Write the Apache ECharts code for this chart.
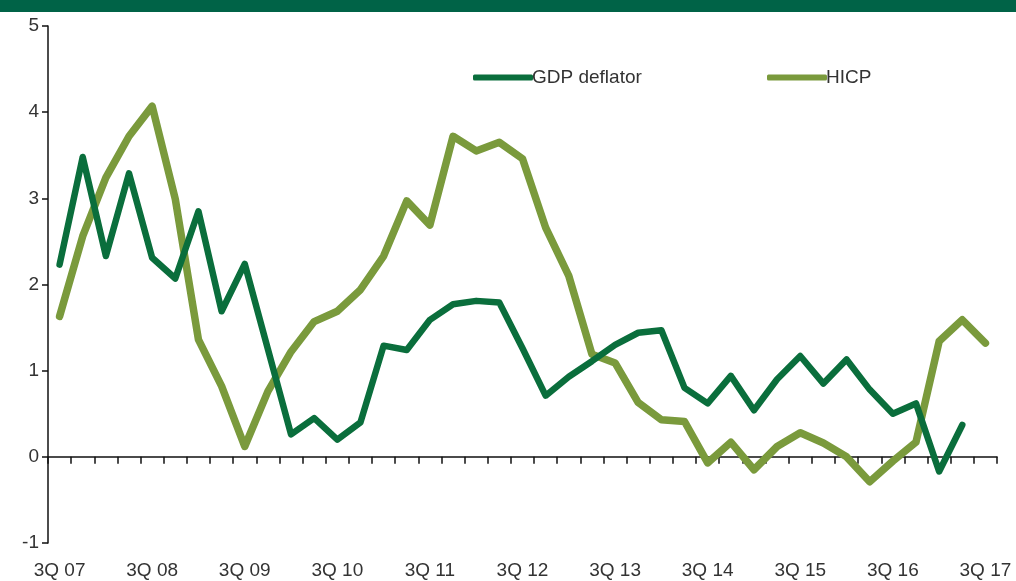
<!DOCTYPE html>
<html>
<head>
<meta charset="utf-8">
<script src="https://cdn.jsdelivr.net/npm/echarts@6/dist/echarts.min.js"></script>
<style>html,body{margin:0;padding:0;background:#fff;}#c{width:1016px;height:581px;}</style>
</head>
<body>
<div id="c"></div>
<script>
// Quarters 3Q07 .. 3Q17
const categories = [
  '3Q 07','4Q 07','1Q 08','2Q 08','3Q 08','4Q 08','1Q 09','2Q 09','3Q 09','4Q 09',
  '1Q 10','2Q 10','3Q 10','4Q 10','1Q 11','2Q 11','3Q 11','4Q 11','1Q 12','2Q 12',
  '3Q 12','4Q 12','1Q 13','2Q 13','3Q 13','4Q 13','1Q 14','2Q 14','3Q 14','4Q 14',
  '1Q 15','2Q 15','3Q 15','4Q 15','1Q 16','2Q 16','3Q 16','4Q 16','1Q 17','2Q 17','3Q 17'
];
const gdpDeflator = [
  2.23, 3.48, 2.33, 3.29, 2.31, 2.07, 2.85, 1.69, 2.24, 1.25,
  0.26, 0.45, 0.20, 0.40, 1.29, 1.24, 1.59, 1.77, 1.81, 1.79,
  1.26, 0.71, 0.93, 1.11, 1.30, 1.44, 1.47, 0.80, 0.62, 0.94,
  0.54, 0.90, 1.17, 0.85, 1.13, 0.78, 0.50, 0.62, -0.17, 0.37, null
];
const hicp = [
  1.63, 2.56, 3.24, 3.72, 4.07, 2.99, 1.36, 0.82, 0.12, 0.76,
  1.22, 1.57, 1.69, 1.94, 2.33, 2.97, 2.69, 3.72, 3.55, 3.65,
  3.46, 2.66, 2.10, 1.19, 1.09, 0.63, 0.43, 0.41, -0.07, 0.17,
  -0.15, 0.12, 0.28, 0.16, 0.00, -0.29, -0.05, 0.17, 1.34, 1.59, 1.32
];
const yTicks = { min: -1, max: 5, interval: 1 };

const FONT = '"Liberation Sans", Arial, sans-serif';
const GDP_COLOR = '#0a6e3c';
const HICP_COLOR = '#7a9a3c';
const TEXT_COLOR = '#333';

const chart = echarts.init(document.getElementById('c'), null, { renderer: 'canvas' });
chart.setOption({
  animation: false,
  backgroundColor: '#ffffff',
  graphic: [{
    type: 'rect', left: 0, top: 0, z: 10,
    shape: { width: 1016, height: 12 },
    style: { fill: '#006347' }
  }],
  grid: { left: 48, right: 19, top: 26, bottom: 38, containLabel: false, outerBoundsMode: 'none' },
  legend: [
    {
      data: ['GDP deflator'], left: 468, top: 63,
      icon: 'roundRect', itemWidth: 60, itemHeight: 6, itemGap: 0,
      textStyle: { fontFamily: FONT, fontSize: 19, color: TEXT_COLOR, padding: [0, 0, 0, -6] }
    },
    {
      data: ['HICP'], left: 762, top: 63,
      icon: 'roundRect', itemWidth: 60, itemHeight: 6, itemGap: 0,
      textStyle: { fontFamily: FONT, fontSize: 19, color: TEXT_COLOR, padding: [0, 0, 0, -6] }
    }
  ],
  xAxis: [
    {
      type: 'category',
      data: categories,
      boundaryGap: true,
      position: 'bottom',
      axisLine: { onZero: true, lineStyle: { color: '#111', width: 1.5 } },
      axisTick: { show: true, interval: 0, length: 7, inside: false, lineStyle: { color: '#111', width: 1.5 } },
      axisLabel: { show: false },
      splitLine: { show: false }
    },
    {
      type: 'category',
      data: categories,
      boundaryGap: true,
      position: 'bottom',
      offset: 0,
      axisLine: { show: false, onZero: false },
      axisTick: { show: false },
      axisLabel: { interval: 3, margin: 18, fontFamily: FONT, fontSize: 19, color: TEXT_COLOR, hideOverlap: false },
      splitLine: { show: false }
    }
  ],
  yAxis: {
    type: 'value',
    min: yTicks.min, max: yTicks.max, interval: yTicks.interval,
    axisLine: { show: true, lineStyle: { color: '#111', width: 1.5 } },
    axisTick: { show: true, length: 6, inside: false, lineStyle: { color: '#111', width: 1.5 } },
    axisLabel: { margin: 9, fontFamily: FONT, fontSize: 19, color: TEXT_COLOR },
    splitLine: { show: false }
  },
  series: [
    {
      name: 'GDP deflator', type: 'line', data: gdpDeflator,
      showSymbol: false, symbol: 'none', connectNulls: false,
      itemStyle: { color: GDP_COLOR },
      lineStyle: { color: GDP_COLOR, width: 6.5, cap: 'round', join: 'round' },
      z: 3
    },
    {
      name: 'HICP', type: 'line', data: hicp,
      showSymbol: false, symbol: 'none',
      itemStyle: { color: HICP_COLOR },
      lineStyle: { color: HICP_COLOR, width: 7.5, cap: 'round', join: 'round' },
      z: 2
    }
  ]
});
</script>
</body>
</html>
